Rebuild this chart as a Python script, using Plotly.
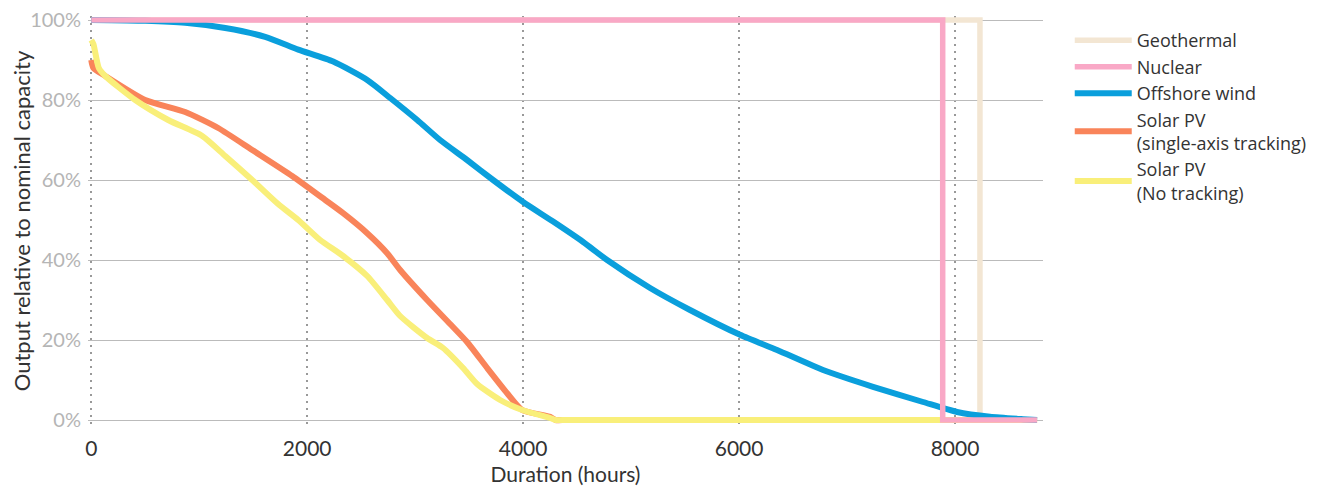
import plotly.graph_objects as go

# load duration curves, hours sorted by output
geo_x = [0, 8231, 8231, 8760]
geo_y = [100, 100, 0, 0]

nuc_x = [0, 7886, 7886, 8760]
nuc_y = [100, 100, 0, 0]

wind_x = [0, 500, 870, 1241, 1611, 1917, 2241, 2556, 2769, 3019, 3231, 3481, 3722,
          4000, 4278, 4556, 4778, 5176, 5546, 6009, 6352, 6778, 7241, 7704, 8019,
          8324, 8630, 8760]
wind_y = [100, 99.8, 99.3, 98, 95.8, 92.6, 89.6, 85, 80.5, 75, 70, 65, 60,
          54.5, 49.6, 44.5, 40, 33, 27.5, 21.3, 17.5, 12.5, 8.3, 4.5, 2,
          0.8, 0.2, 0]

pv_track_x = [0, 20, 130, 500, 870, 1176, 1491, 1861, 2167, 2333, 2556, 2741, 2861,
              3111, 3324, 3481, 3667, 3852, 3991, 4250, 4300, 4400, 8760]
pv_track_y = [90, 88, 86, 80, 77, 73, 67.5, 61, 55, 51.7, 46.7, 41.7, 37.5,
              30, 24, 19.5, 13, 6.7, 2.5, 0.8, 0, 0, 0]

pv_fixed_x = [0, 20, 70, 130, 407, 713, 1028, 1241, 1491, 1731, 1917, 2120, 2333,
              2556, 2741, 2861, 3111, 3259, 3444, 3574, 3787, 3991, 4250, 4300, 4400, 8760]
pv_fixed_y = [95, 94, 88, 86, 80, 75, 71, 66, 60, 54, 50, 45, 41,
              36, 30, 26, 20.5, 18, 13, 9, 5, 2.5, 0.5, 0, 0, 0]

x_ticks = [0, 2000, 4000, 6000, 8000]
y_ticks = [0, 20, 40, 60, 80, 100]
y_labels = ['0%', '20%', '40%', '60%', '80%', '100%']

fig = go.Figure()

fig.add_trace(go.Scatter(x=geo_x, y=geo_y, mode='lines', name='Geothermal', legendrank=1,
                         line=dict(color='#f3e6d3', width=5.5)))
fig.add_trace(go.Scatter(x=pv_track_x, y=pv_track_y, mode='lines',
                         name='Solar PV<br>(single-axis tracking)', legendrank=4,
                         line=dict(color='#f9845a', width=6, shape='spline', smoothing=0.6)))
fig.add_trace(go.Scatter(x=pv_fixed_x, y=pv_fixed_y, mode='lines',
                         name='Solar PV<br>(No tracking)', legendrank=5,
                         line=dict(color='#f9ef7a', width=6, shape='spline', smoothing=0.6)))
fig.add_trace(go.Scatter(x=wind_x, y=wind_y, mode='lines', name='Offshore wind', legendrank=3,
                         line=dict(color='#0a9fdc', width=6, shape='spline', smoothing=0.6)))
fig.add_trace(go.Scatter(x=nuc_x, y=nuc_y, mode='lines', name='Nuclear', legendrank=2,
                         line=dict(color='#f9a8c6', width=5.5)))

fig.update_layout(
    width=1341, height=488,
    margin=dict(l=80, r=306, t=8, b=70),
    plot_bgcolor='white', paper_bgcolor='white',
    font=dict(family='Lato', size=21, color='#333'),
    legend=dict(x=1.028, y=0.985, xanchor='left', yanchor='top', itemwidth=57,
                font=dict(family='Open Sans', size=18, color='#333'), tracegroupgap=0),
    xaxis=dict(range=[-30, 8815], tickvals=x_ticks, showgrid=True,
               gridcolor='#999999', griddash='2px,5px', gridwidth=1.5, zeroline=False,
               showline=False, ticks='', tickfont=dict(size=21, color='#333'),
               ticklabelstandoff=8, automargin=False,
               title=dict(text='Duration (hours)', font=dict(size=21, color='#333'), standoff=8)),
    yaxis=dict(range=[-1.5, 101.0], tickvals=y_ticks, ticktext=y_labels, showgrid=True,
               gridcolor='#bbbbbb', gridwidth=1, zeroline=False, showline=False, ticks='',
               tickfont=dict(size=20, color='#b5b5b5'), ticklabelstandoff=6,
               ticklabeloverflow='allow', automargin=False,
               title=dict(text='Output relative to nominal capacity',
                          font=dict(size=22, color='#333'), standoff=0)),
)

fig.write_html("out.html")
